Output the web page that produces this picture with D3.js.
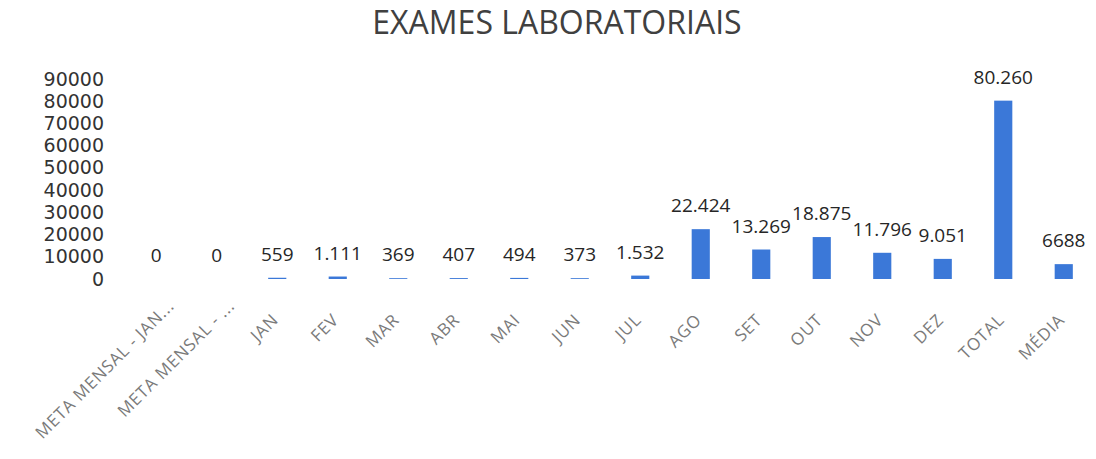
<!DOCTYPE html>
<html>
<head>
<meta charset="utf-8">
<script src="https://cdn.jsdelivr.net/npm/d3@7"></script>
<style>
  html, body { margin: 0; padding: 0; background: #ffffff; }
  svg { display: block; }
</style>
</head>
<body>
<svg id="chart" width="1096" height="459"></svg>
<script>
// Exames laboratoriais por mês
const categories = [
  "META MENSAL - JAN...", "META MENSAL - ...", "JAN", "FEV", "MAR", "ABR", "MAI", "JUN",
  "JUL", "AGO", "SET", "OUT", "NOV", "DEZ", "TOTAL", "MÉDIA"
];
const values = [0, 0, 559, 1111, 369, 407, 494, 373, 1532, 22424, 13269, 18875, 11796, 9051, 80260, 6688];
const yTicks = [0, 10000, 20000, 30000, 40000, 50000, 60000, 70000, 80000, 90000];
const plainLabelCategories = ["MÉDIA"];
const title = "EXAMES LABORATORIAIS";

const baseFont = "'Open Sans', 'Liberation Sans', sans-serif";
const svg = d3.select("#chart");

const x = d3.scaleBand()
  .domain(categories)
  .range([126, 1094])
  .paddingInner(0.7)
  .paddingOuter(0.35);

const y = d3.scaleLinear()
  .domain([0, 90000])
  .range([279, 79]);

const ptBR = d3.formatLocale({ decimal: ",", thousands: ".", grouping: [3], currency: ["R$", ""] });
const fmtGrouped = ptBR.format(",d");
const fmtPlain = d3.format("d");

// Title
svg.append("text")
  .attr("x", 557)
  .attr("y", 34)
  .attr("text-anchor", "middle")
  .style("font-family", baseFont)
  .style("font-size", "32px")
  .attr("fill", "#404040")
  .text(title);

// Y axis (labels only, no line)
const yAxis = d3.axisLeft(y)
  .tickValues(yTicks)
  .tickSize(0)
  .tickPadding(0)
  .tickFormat(d3.format("d"));

const gy = svg.append("g")
  .attr("transform", "translate(104,0)")
  .call(yAxis);
gy.select(".domain").remove();
gy.selectAll("text")
  .style("font-family", "'DejaVu Sans', sans-serif")
  .style("font-size", "19px")
  .attr("fill", "#333333");

// X axis (rotated category labels, no line)
const xAxis = d3.axisBottom(x).tickSize(0).tickPadding(0);
const gx = svg.append("g")
  .attr("transform", "translate(0,279)")
  .call(xAxis);
gx.select(".domain").remove();
gx.selectAll(".tick text")
  .style("font-family", baseFont)
  .style("font-size", "17px")
  .style("letter-spacing", "0.8px")
  .attr("fill", "#7a7a7a")
  .attr("text-anchor", "end")
  .attr("dy", 0)
  .attr("y", 0)
  .attr("transform", d => {
    const truncated = d.endsWith("...");
    const dx = truncated ? 19 : 2;
    const dy = truncated ? 28 : 42;
    return `translate(${dx},${dy}) rotate(-45)`;
  });

// Bars
svg.append("g")
  .selectAll("rect")
  .data(categories)
  .join("rect")
  .attr("x", d => x(d))
  .attr("width", x.bandwidth())
  .attr("y", (d, i) => y(values[i]))
  .attr("height", (d, i) => y(0) - y(values[i]))
  .attr("fill", "#3b78d8");

// Value labels above each bar
svg.append("g")
  .selectAll("text")
  .data(categories)
  .join("text")
  .attr("x", d => x(d) + x.bandwidth() / 2)
  .attr("y", (d, i) => y(values[i]) - 17)
  .attr("text-anchor", "middle")
  .style("font-family", baseFont)
  .style("font-size", "19px")
  .attr("fill", "#262626")
  .text((d, i) => plainLabelCategories.includes(d) ? fmtPlain(values[i]) : fmtGrouped(values[i]));
</script>
</body>
</html>
